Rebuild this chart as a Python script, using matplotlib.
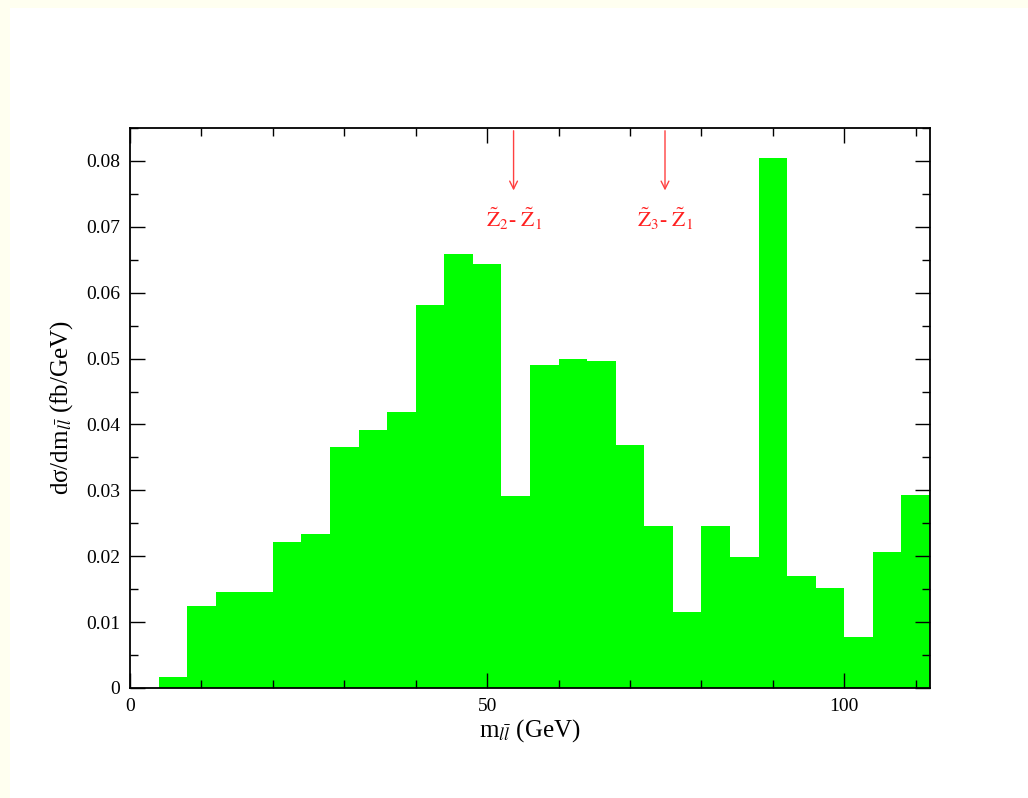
import numpy as np
import matplotlib
matplotlib.use("Agg")
import matplotlib.pyplot as plt
from matplotlib.patches import Rectangle
from matplotlib.ticker import MultipleLocator

# bin edges (GeV) and heights (fb/GeV)
bin_edges = [4, 8, 12, 16, 20, 24, 28, 32, 36, 40, 44, 48, 52, 56, 60, 64, 68,
             72, 76, 80, 84, 88, 92, 96, 100, 104, 108, 112]
dsigma = [0.0016, 0.0124, 0.0145, 0.0145, 0.0222, 0.0234, 0.0366, 0.0392,
          0.0419, 0.0581, 0.0659, 0.0643, 0.0291, 0.0490, 0.0500, 0.0497,
          0.0369, 0.0246, 0.0115, 0.0246, 0.0199, 0.0804, 0.0170, 0.0152,
          0.0077, 0.0207, 0.0293]

# mass differences marked with arrows
arrow_x = [53.7, 74.9]
arrow_labels = [r'$\mathrm{\tilde{Z}}_2$- $\mathrm{\tilde{Z}}_1$',
                r'$\mathrm{\tilde{Z}}_3$- $\mathrm{\tilde{Z}}_1$']

plt.rcParams['font.family'] = ['Liberation Serif', 'DejaVu Serif']
plt.rcParams['mathtext.fontset'] = 'stix'

fig = plt.figure(figsize=(10.28, 7.98), dpi=100)
fig.patch.set_facecolor('white')
# pale frame on top and left edge
fig.patches.append(Rectangle((0, 1 - 8 / 798), 1, 8 / 798, transform=fig.transFigure,
                             facecolor='#fffff0', edgecolor='none', zorder=0))
fig.patches.append(Rectangle((0, 0), 10 / 1028, 1, transform=fig.transFigure,
                             facecolor='#fffff0', edgecolor='none', zorder=0))

ax = fig.add_axes([130 / 1028, 1 - 688 / 798, 800 / 1028, 560 / 798])

edges = np.array(bin_edges)
ax.bar(edges[:-1], dsigma, width=np.diff(edges), align='edge',
       color='#00ff00', edgecolor='none', linewidth=0)

for x, lab in zip(arrow_x, arrow_labels):
    ax.annotate('', xy=(x, 0.0751), xytext=(x, 0.085),
                arrowprops=dict(arrowstyle='->', color='#ff4040', lw=1.0,
                                mutation_scale=14))
    ax.text(x, 0.0712, lab, color='#ff2020', fontsize=15.5, ha='center', va='center')

ax.set_xlim(0, 112)
ax.set_ylim(0, 0.085)
ax.xaxis.set_major_locator(MultipleLocator(50))
ax.xaxis.set_minor_locator(MultipleLocator(10))
ax.yaxis.set_major_locator(MultipleLocator(0.01))
ax.yaxis.set_minor_locator(MultipleLocator(0.005))
ax.yaxis.set_major_formatter(plt.FuncFormatter(lambda v, p: '0' if v == 0 else '%.2f' % v))

ax.tick_params(which='both', direction='in', top=True, right=True, width=1.0,
               labelsize=14, colors='black')
ax.tick_params(which='major', length=11, pad=7)
ax.tick_params(which='minor', length=5.5)
for s in ax.spines.values():
    s.set_linewidth(1.3)

ax.set_xlabel(r'm$_{l\bar{l}}$ (GeV)', fontsize=18, labelpad=2)
ax.set_ylabel(r'dσ/dm$_{l\bar{l}}$ (fb/GeV)', fontsize=18, labelpad=8)

fig.savefig('out.png', dpi=100, facecolor=fig.get_facecolor())
